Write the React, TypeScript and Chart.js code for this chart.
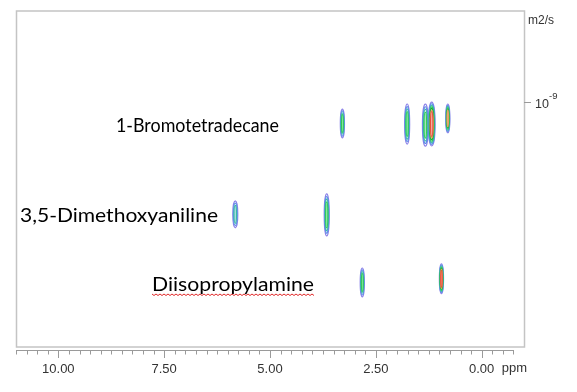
import React, { useEffect, useRef } from 'react';
import { Chart, registerables } from 'chart.js';

Chart.register(...registerables);

// ---- data ----
const peakPpm = [3.29, 1.76, 1.33, 1.18, 0.8, 5.82, 3.66, 2.82, 0.95];
const peakDiffusion = [1.175e-9, 1.18e-9, 1.19e-9, 1.18e-9, 1.13e-9, 2.36e-9, 2.37e-9, 3.98e-9, 3.87e-9];
const peakHalfWidthPpm = [0.05, 0.06, 0.07, 0.08, 0.05, 0.06, 0.06, 0.05, 0.05];
const peakHalfSpanDecades = [0.048, 0.067, 0.07, 0.073, 0.048, 0.045, 0.07, 0.048, 0.05];
const peakLevels = [4, 4, 4, 7, 6, 3, 4, 4, 7];
const compoundNames = ['1-Bromotetradecane', '3,5-Dimethoxyaniline', 'Diisopropylamine'];
const xMajorTicks = [10, 7.5, 5, 2.5, 0];
const yTickValues = [1e-9];
const xUnit = 'ppm';
const yUnit = 'm2/s';

const contourColors = ['#8a80e8', '#5a90e6', '#3ab8a8', '#2ecc55', '#1ea83a', '#f09a5c', '#e8503c'];

const dosyPlugin = {
  id: 'dosy',
  afterDatasetsDraw(chart: any) {
    const ctx = chart.ctx;
    const xs = chart.scales.x;
    const ys = chart.scales.y;
    const area = chart.chartArea;
    ctx.save();
    // frame
    ctx.strokeStyle = '#c4c4c4';
    ctx.lineWidth = 1.5;
    ctx.strokeRect(area.left + 0.5, area.top, area.right - area.left, area.bottom - area.top);

    // contours
    ctx.beginPath();
    ctx.rect(area.left, area.top, area.right - area.left, area.bottom - area.top);
    ctx.clip();
    for (let i = 0; i < peakPpm.length; i++) {
      const cx = xs.getPixelForValue(peakPpm[i]);
      const cy = ys.getPixelForValue(peakDiffusion[i]);
      const rx = Math.abs(xs.getPixelForValue(peakPpm[i] + peakHalfWidthPpm[i]) - cx);
      const f = Math.pow(10, peakHalfSpanDecades[i]);
      const ry = Math.abs(ys.getPixelForValue(peakDiffusion[i] * f) - ys.getPixelForValue(peakDiffusion[i] / f)) / 2;
      const n = peakLevels[i];
      for (let k = 0; k < n; k++) {
        const t = k / n;
        const rxk = Math.max(0.6, rx * (1 - 0.75 * t));
        const ryk = ry * (1 - 0.5 * t);
        const col = contourColors[Math.min(k, contourColors.length - 1)];
        ctx.beginPath();
        ctx.ellipse(cx, cy, rxk, ryk, 0, 0, Math.PI * 2);
        if (k === n - 1) {
          ctx.globalAlpha = 0.45;
          ctx.fillStyle = col;
          ctx.fill();
          ctx.globalAlpha = 1;
        }
        ctx.strokeStyle = col;
        ctx.lineWidth = 1.1;
        ctx.stroke();
      }
    }
    ctx.restore();

    ctx.save();
    // bottom axis line and ticks
    const ticks = xs.ticks;
    const axisY = area.bottom + 3;
    let first = Infinity;
    let last = -Infinity;
    ctx.strokeStyle = '#9a9a9a';
    ctx.lineWidth = 1;
    ticks.forEach((t: any, idx: number) => {
      if (t.value < -0.8) return;
      const px = Math.round(xs.getPixelForTick(idx)) + 0.5;
      first = Math.min(first, px);
      last = Math.max(last, px);
      const major = xMajorTicks.some((m) => Math.abs(m - t.value) < 1e-6);
      ctx.beginPath();
      ctx.moveTo(px, axisY);
      ctx.lineTo(px, axisY + (major ? 8 : 4.5));
      ctx.stroke();
    });
    ctx.beginPath();
    ctx.moveTo(first, axisY + 0.5);
    ctx.lineTo(last, axisY + 0.5);
    ctx.stroke();

    // ppm unit
    ctx.fillStyle = '#333';
    ctx.font = '13px "Liberation Sans", Arial, sans-serif';
    ctx.textBaseline = 'alphabetic';
    ctx.textAlign = 'left';
    const zeroPx = xs.getPixelForValue(0);
    ctx.fillText(xUnit, zeroPx + 20, 372);

    // right axis tick + label
    yTickValues.forEach((v) => {
      const py = Math.round(ys.getPixelForValue(v)) + 0.5;
      ctx.strokeStyle = '#9a9a9a';
      ctx.beginPath();
      ctx.moveTo(area.right, py);
      ctx.lineTo(area.right + 7, py);
      ctx.stroke();
      const exp = Math.round(Math.log10(v));
      ctx.font = '12.5px "Liberation Sans", Arial, sans-serif';
      ctx.fillText('10', area.right + 11, py + 5);
      ctx.font = '9.5px "Liberation Sans", Arial, sans-serif';
      ctx.fillText(String(exp), area.right + 25, py - 4);
    });
    ctx.font = '12px "Liberation Sans", Arial, sans-serif';
    ctx.fillText(yUnit, area.right + 4, 24);

    // compound labels
    const labelPos = [
      { x: 116, y: 132, w: 163 },
      { x: 20, y: 222, w: 198 },
      { x: 152, y: 291, w: 162 },
    ];
    ctx.fillStyle = '#000';
    ctx.font = '18.5px Lato, "Open Sans", sans-serif';
    compoundNames.forEach((name, i) => {
      const p = labelPos[i];
      const w0 = ctx.measureText(name).width;
      ctx.save();
      ctx.translate(p.x, p.y);
      ctx.scale(p.w / w0, 1);
      ctx.fillText(name, 0, 0);
      ctx.restore();
    });
    // spell-check squiggle under third label
    const sq = labelPos[2];
    ctx.strokeStyle = '#e02828';
    ctx.lineWidth = 1;
    ctx.beginPath();
    for (let x = sq.x, j = 0; x <= sq.x + sq.w; x += 2, j++) {
      const yy = sq.y + 3 + (j % 2 === 0 ? 0 : 1.5);
      if (j === 0) ctx.moveTo(x, yy);
      else ctx.lineTo(x, yy);
    }
    ctx.stroke();
    ctx.restore();
  },
};

export default function App() {
  const ref = useRef<HTMLCanvasElement>(null);
  useEffect(() => {
    if (!ref.current) return;
    const chart = new Chart(ref.current, {
      type: 'scatter',
      data: {
        datasets: [
          {
            label: 'peaks',
            data: peakPpm.map((p, i) => ({ x: p, y: peakDiffusion[i] })),
            pointRadius: 0,
            pointHoverRadius: 0,
          },
        ],
      },
      options: {
        animation: false,
        responsive: false,
        events: [],
        layout: { padding: { left: 16, top: 11, right: 0, bottom: 0 } },
        plugins: { legend: { display: false }, tooltip: { enabled: false } },
        scales: {
          x: {
            type: 'linear',
            position: 'bottom',
            reverse: true,
            min: -1,
            max: 11,
            grid: { display: false, drawTicks: false },
            border: { display: false },
            ticks: {
              stepSize: 0.25,
              autoSkip: false,
              maxRotation: 0,
              padding: 15,
              color: '#333',
              font: { family: '"Liberation Sans", Arial, sans-serif', size: 13 },
              callback: (v: any) => {
                const val = Number(v);
                return xMajorTicks.some((m) => Math.abs(m - val) < 1e-6) ? val.toFixed(2) : '';
              },
            },
            afterFit: (s: any) => {
              s.height = 45;
            },
          },
          y: {
            type: 'logarithmic',
            position: 'right',
            reverse: true,
            min: Math.pow(10, -9.305),
            max: Math.pow(10, -8.185),
            grid: { display: false, drawTicks: false },
            border: { display: false },
            ticks: { display: false },
            afterFit: (s: any) => {
              s.width = 53;
            },
          },
        },
      },
      plugins: [dosyPlugin],
    });
    return () => chart.destroy();
  }, []);
  return (
    <div style={{ position: 'absolute', left: 0, top: 0, width: 577, height: 392, background: '#fff' }}>
      <canvas ref={ref} width={577} height={392} />
    </div>
  );
}
